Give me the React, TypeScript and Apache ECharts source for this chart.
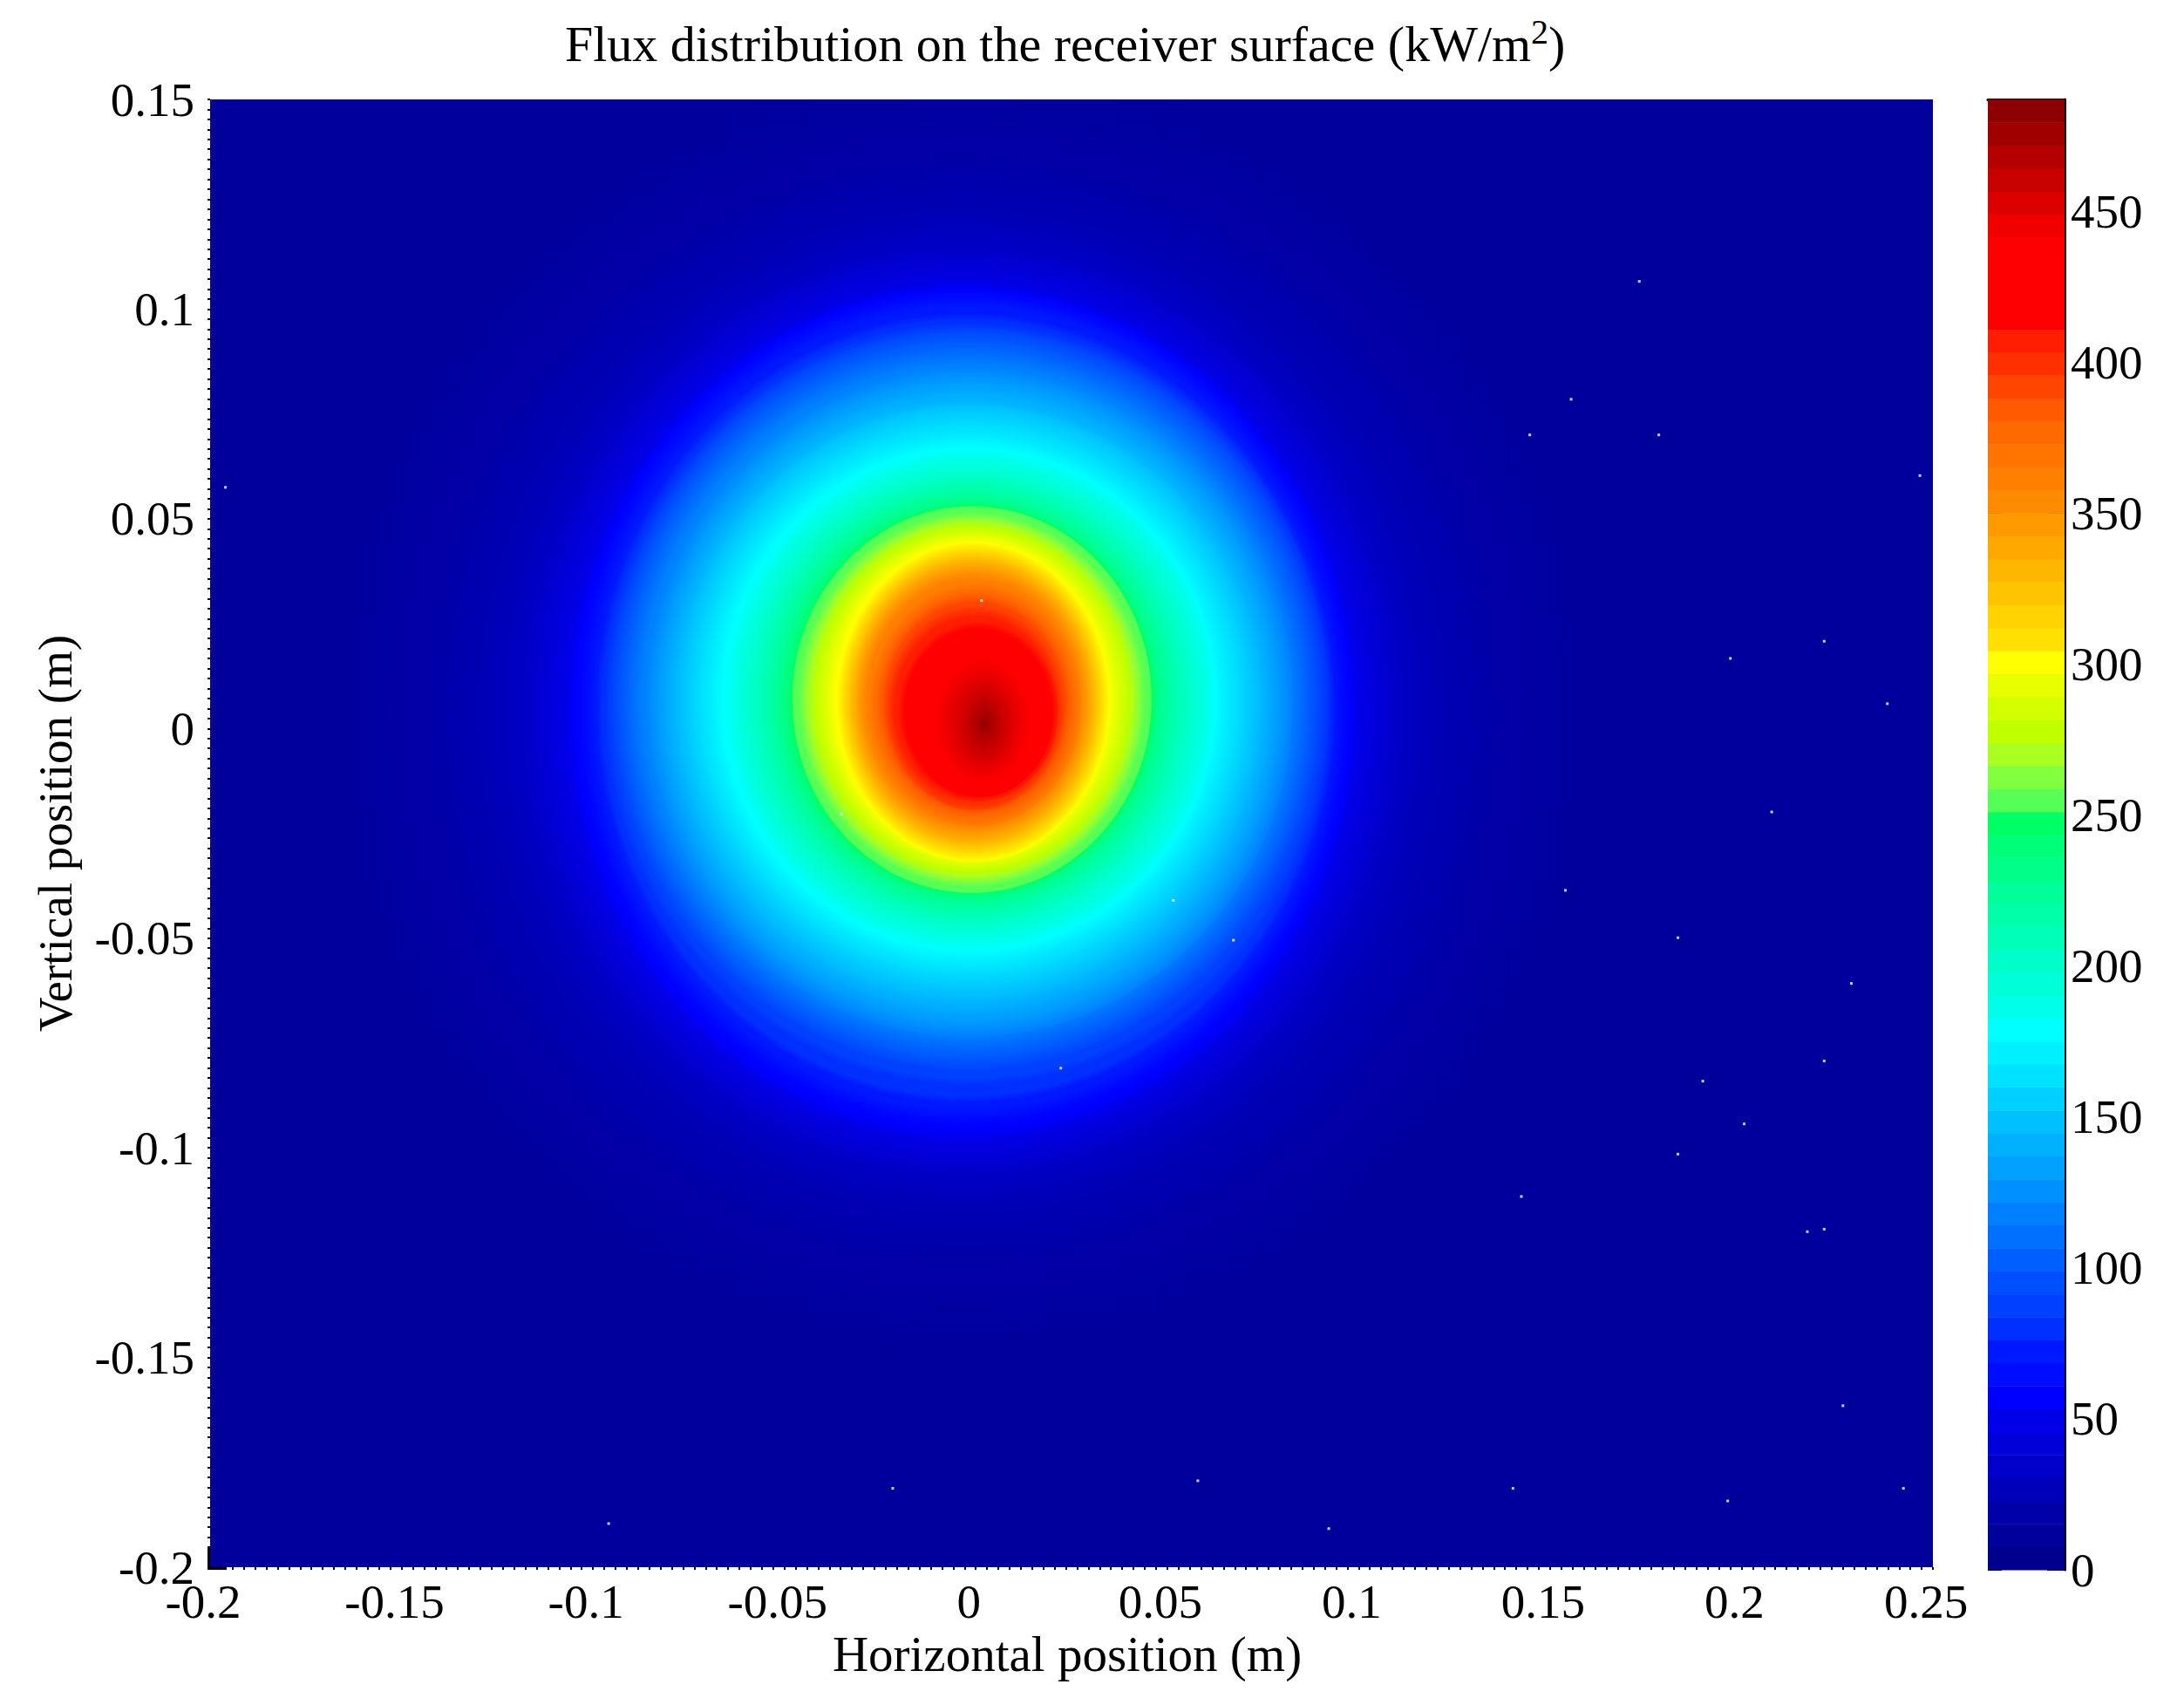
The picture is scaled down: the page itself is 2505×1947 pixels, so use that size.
import { useEffect, useRef } from 'react';
import * as echarts from 'echarts';

const FONT = '"Liberation Serif", "Times New Roman", serif';

// colour bar, bottom to top: 64 steps
const bandColors = [
  '#00008c', '#00009a', '#0000a8', '#0000b8', '#0000c8', '#0000d8', '#0000e8', '#0000ff',
  '#000cff', '#0018ff', '#0030ff', '#0040ff', '#0050ff', '#0060ff', '#0070ff', '#0080ff',
  '#0090ff', '#00a0ff', '#00b0ff', '#00c0ff', '#00d0ff', '#00e0ff', '#00f0ff', '#00ffff',
  '#00ffe8', '#00ffd8', '#00ffc8', '#00ffb8', '#00ffa8', '#00ff98', '#00ff88', '#00ff78',
  '#00ff64', '#55ff55', '#80ff40', '#a8ff20', '#c0ff00', '#d4ff00', '#e8ff00', '#ffff00',
  '#ffe000', '#ffd200', '#ffc400', '#ffb600', '#ffa800', '#ff9a00', '#ff8c00', '#ff8000',
  '#ff7500', '#ff6a00', '#ff5a00', '#ff4500', '#ff3000', '#ff1e00', '#ff0000', '#ff0000',
  '#ff0000', '#ff0000', '#f00000', '#dc0000', '#c80000', '#b40000', '#a00000', '#8c0000',
];
const fluxMax = 487;
const colorTicks = [0, 50, 100, 150, 200, 250, 300, 350, 400, 450];
const hardEdgeBand = 33; // the map jumps from green to lime here, without a fade

// outline of each flux band in metres, from band 3 (outermost) to band 64 (peak)
const bandRx = [
  0.167, 0.1386, 0.1219, 0.1136, 0.1086, 0.1035,
  0.101, 0.0985, 0.0965, 0.0947, 0.0929, 0.091, 0.089, 0.0868,
  0.0847, 0.0825, 0.0802, 0.0777, 0.0752, 0.0725, 0.0698, 0.0668,
  0.0643, 0.0618, 0.0593, 0.0569, 0.0548, 0.0526, 0.0506, 0.0488,
  0.0479, 0.0469, 0.0454, 0.0439, 0.0424, 0.0409, 0.0392, 0.0374,
  0.0356, 0.0339, 0.0331, 0.0322, 0.0314, 0.0306, 0.0297, 0.0287,
  0.0277, 0.0267, 0.0256, 0.0244, 0.0232, 0.022, 0.0209, 0.0192,
  0.0172, 0.015, 0.0125, 0.01, 0.007, 0.0045, 0.0025, 0.0008,
];
const bandRy = [
  0.1556, 0.1312, 0.1174, 0.1106, 0.1063, 0.1022,
  0.0999, 0.0976, 0.0942, 0.091, 0.0886, 0.0865, 0.0842, 0.0819,
  0.0799, 0.0778, 0.0752, 0.0724, 0.0702, 0.0674, 0.0648, 0.0622,
  0.0599, 0.0576, 0.0555, 0.0535, 0.0519, 0.0502, 0.0486, 0.0474,
  0.0467, 0.0461, 0.0448, 0.0436, 0.0424, 0.0412, 0.04, 0.039,
  0.0381, 0.0363, 0.0354, 0.0345, 0.0336, 0.0325, 0.0314, 0.0302,
  0.0291, 0.0281, 0.0268, 0.0256, 0.0244, 0.0229, 0.0214, 0.0198,
  0.018, 0.0165, 0.015, 0.0125, 0.0095, 0.0065, 0.0035, 0.0012,
];
const bandCx = [
  -0.0035, -0.0035, -0.0035, -0.0035, -0.0035, -0.0035,
  -0.0032, -0.003, -0.0027, -0.0024, -0.0024, -0.0024, -0.0024, -0.0024,
  -0.0019, -0.0019, -0.0019, -0.0019, -0.0019, -0.0019, -0.0019, -0.0019,
  -0.0014, -0.0014, -0.0014, -0.0014, -0.0014, -0.0014, -0.0014, -0.0014,
  -0.001, -0.001, -0.001, -0.001, -0.001, -0.001, -0.001, -0.001,
  -0.0007, -0.0007, -0.0007, -0.0007, -0.0007, -0.0007, -0.0007, -0.0007,
  -0.0002, -0.0002, -0.0002, -0.0002, -0.0002, -0.0002, 0.0006, 0.0009,
  0.0013, 0.0016, 0.0018, 0.0019, 0.0023, 0.0023, 0.0023, 0.0023,
];
const bandCy = [
  0.0041, 0.0041, 0.0041, 0.0041, 0.0041, 0.0041,
  0.0049, 0.0049, 0.0049, 0.0059, 0.0069, 0.0069, 0.0069, 0.0069,
  0.0064, 0.0064, 0.0064, 0.0064, 0.0069, 0.0069, 0.0069, 0.0069,
  0.0069, 0.0069, 0.0069, 0.0069, 0.0069, 0.0069, 0.0069, 0.0069,
  0.0069, 0.0069, 0.0069, 0.0069, 0.0069, 0.0069, 0.0069, 0.0069,
  0.0064, 0.0064, 0.0064, 0.0064, 0.0064, 0.0064, 0.0064, 0.0064,
  0.0057, 0.0057, 0.0057, 0.0057, 0.0049, 0.0049, 0.0041, 0.0034,
  0.0026, 0.0021, 0.0018, 0.0015, 0.0011, 0.0011, 0.0011, 0.0011,
];
const firstBand = 2;

// isolated white cells in the flux map
const speckX = [
  0.1733, 0.1555, 0.1447, 0.1784, 0.2466, 0.2216, 0.1971, 0.2381, 0.2079, 0.154,
  0.1834, 0.2287, 0.2216, 0.1899, 0.2007, 0.1834, 0.1425, 0.2172, 0.2216, 0.2265,
  0.1403, 0.2423, 0.1964, 0.0015, -0.0351, 0.0516, 0.0673, 0.0222, -0.0959, -0.0217,
  0.058, 0.0922, -0.196,
];
const speckY = [
  0.1066, 0.0785, 0.07, 0.07, 0.0603, 0.0208, 0.0167, 0.0059, -0.0199, -0.0386,
  -0.0499, -0.0608, -0.0793, -0.0841, -0.0943, -0.1015, -0.1116, -0.12, -0.1194, -0.1615,
  -0.1812, -0.1812, -0.1842, 0.0305, -0.0204, -0.041, -0.0505, -0.081, -0.1896, -0.1812,
  -0.1794, -0.1908, 0.0575,
];

export default function App() {
  const chartRef = useRef<HTMLDivElement | null>(null);

  useEffect(() => {
    if (!chartRef.current) return;
    const chart = echarts.init(chartRef.current, undefined, { renderer: 'svg' });

    const labelStyle = { fontFamily: FONT, fontSize: 55, color: '#000' };
    const step = fluxMax / bandColors.length;

    chart.setOption({
      animation: false,
      backgroundColor: '#fff',
      title: {
        text: '{main|Flux distribution on the receiver surface (kW/m}{sup|2}{main|)}',
        left: 648,
        top: 16,
        padding: 0,
        textStyle: {
          fontWeight: 'normal',
          rich: {
            main: { fontFamily: FONT, fontSize: 58, fontWeight: 'normal', color: '#000' },
            sup: { fontFamily: FONT, fontSize: 40, fontWeight: 'normal', color: '#000', padding: [0, 0, 28, 0] },
          },
        },
      },
      grid: [
        {
          left: 241,
          top: 114,
          width: 1976,
          height: 1683,
          show: true,
          backgroundColor: bandColors[1],
          borderWidth: 0,
        },
        { left: 2280, top: 114, width: 88, height: 1686, show: false },
      ],
      xAxis: [
        {
          type: 'value',
          gridIndex: 0,
          min: -0.2,
          max: 0.25,
          interval: 0.05,
          name: 'Horizontal position (m)',
          nameLocation: 'middle',
          nameGap: 67,
          nameTextStyle: { ...labelStyle, fontSize: 57, padding: [0, 10, 0, 0] },
          splitLine: { show: false },
          axisLine: { show: false, onZero: false },
          axisTick: { length: 3, lineStyle: { color: '#000', width: 2 } },
          minorTick: { show: true, splitNumber: 17, length: 3, lineStyle: { color: '#000', width: 2 } },
          axisLabel: { ...labelStyle, lineHeight: 38, margin: 20, padding: [0, 16, 0, 0] },
        },
        {
          type: 'value',
          gridIndex: 1,
          position: 'top',
          min: 0,
          max: 1,
          splitLine: { show: false },
          axisLine: { show: true, onZero: false, lineStyle: { color: '#000', width: 3 } },
          axisTick: { show: false },
          axisLabel: { show: false },
        },
      ],
      yAxis: [
        {
          type: 'value',
          gridIndex: 0,
          min: -0.2,
          max: 0.15,
          interval: 0.05,
          name: 'Vertical position (m)',
          nameLocation: 'middle',
          nameGap: 150,
          nameTextStyle: labelStyle,
          splitLine: { show: false },
          axisLine: { show: false, onZero: false },
          axisTick: { length: 3, lineStyle: { color: '#000', width: 2 } },
          minorTick: { show: true, splitNumber: 21, length: 3, lineStyle: { color: '#000', width: 2 } },
          axisLabel: { ...labelStyle, lineHeight: 38, margin: 18 },
        },
        {
          type: 'value',
          gridIndex: 1,
          position: 'right',
          min: 0,
          max: fluxMax,
          splitLine: { show: false },
          axisLine: { show: true, onZero: false, lineStyle: { color: '#000', width: 3 } },
          axisTick: {
            inside: true,
            length: 20,
            customValues: colorTicks,
            lineStyle: { color: '#000', width: 2 },
          },
          axisLabel: { ...labelStyle, margin: 7, padding: [0, 0, 4, 0], customValues: colorTicks },
        },
        {
          type: 'value',
          gridIndex: 1,
          position: 'left',
          min: 0,
          max: fluxMax,
          splitLine: { show: false },
          axisLine: { show: false },
          axisTick: {
            inside: true,
            length: 16,
            customValues: colorTicks,
            lineStyle: { color: '#000', width: 2 },
          },
          axisLabel: { show: false },
        },
      ],
      series: [
        {
          type: 'custom',
          name: 'Flux',
          xAxisIndex: 0,
          yAxisIndex: 0,
          clip: true,
          silent: true,
          data: bandRx.map((rx, i) => [bandCx[i], bandCy[i], rx, bandRy[i], i + firstBand]),
          encode: { x: 0, y: 1 },
          renderItem: (_params: any, api: any) => {
            const center = api.coord([api.value(0), api.value(1)]);
            const size = api.size([api.value(2), api.value(3)]);
            const band = api.value(4);
            const row = band - firstBand;
            // fade each band into the one outside it, the map has no visible steps
            const inner = row + 1 < bandRx.length ? bandRx[row + 1] / bandRx[row] : 0;
            const outerColor = band === hardEdgeBand ? bandColors[band] : bandColors[band - 1];
            return {
              type: 'ellipse',
              shape: { cx: center[0], cy: center[1], rx: size[0], ry: size[1] },
              style: {
                fill: new echarts.graphic.RadialGradient(0.5, 0.5, 0.5, [
                  { offset: inner, color: bandColors[band] },
                  { offset: 1, color: outerColor },
                ]),
              },
            };
          },
        },
        {
          type: 'scatter',
          name: 'Specks',
          xAxisIndex: 0,
          yAxisIndex: 0,
          silent: true,
          z: 5,
          symbol: 'rect',
          symbolSize: 3,
          itemStyle: { color: '#fff' },
          data: speckX.map((x, i) => [x, speckY[i]]),
        },
        {
          type: 'custom',
          name: 'Colour bar',
          xAxisIndex: 1,
          yAxisIndex: 1,
          silent: true,
          data: bandColors.map((_c, i) => [i]),
          encode: { y: 0 },
          renderItem: (_params: any, api: any) => {
            const band = api.value(0);
            const low = api.coord([0, band * step]);
            const high = api.coord([1, (band + 1) * step]);
            return {
              type: 'rect',
              shape: { x: low[0], y: high[1], width: high[0] - low[0], height: low[1] - high[1] + 0.5 },
              style: { fill: bandColors[band] },
            };
          },
        },
      ],
      graphic: [
        // heavy corner left at the origin of the flux map
        { type: 'rect', shape: { x: 238, y: 1775, width: 3, height: 25 }, style: { fill: '#000' } },
        { type: 'rect', shape: { x: 238, y: 1797, width: 22, height: 3 }, style: { fill: '#000' } },
      ],
    });

    return () => {
      chart.dispose();
    };
  }, []);

  return <div ref={chartRef} style={{ position: 'absolute', left: 0, top: 0, width: 2505, height: 1947 }} />;
}
